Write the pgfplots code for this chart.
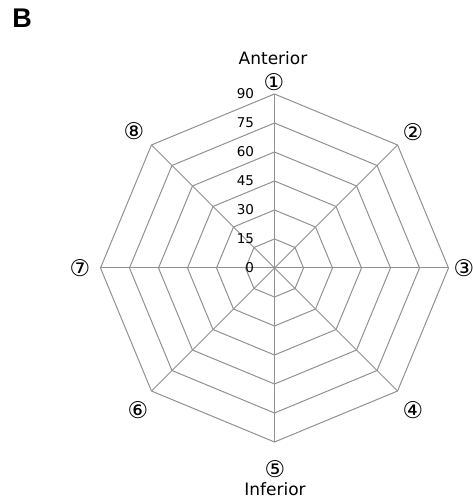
\documentclass[border=0pt]{standalone}
\usepackage{fontspec}
\setmainfont{DejaVu Sans}
\newfontfamily\arialfont{Liberation Sans}
\usepackage{pgfplots}
\pgfplotsset{compat=1.18}
\definecolor{gridgray}{RGB}{145,145,145}
\begin{document}
\begin{tikzpicture}[x=1pt,y=1pt]
\useasboundingbox (0,0) rectangle (473,500);
\clip (0,0) rectangle (473,500);
\begin{axis}[
  at={(0pt,0pt)}, anchor=south west,
  scale only axis, width=473pt, height=500pt,
  xmin=-141.98, xmax=102.67, ymin=-120.0, ymax=138.62,
  hide axis, clip=false,
]
% octagonal rings (angle, value)
\foreach \r in {15,30,45,60,75,90}{
  \edef\temp{\noexpand\addplot[gridgray, line width=1pt, data cs=polar] coordinates {(90,\r) (45,\r) (0,\r) (-45,\r) (-90,\r) (-135,\r) (180,\r) (135,\r) (90,\r)};}
  \temp
}
% spokes
\foreach \a in {90,45,0,-45,-90,-135,180,135}{
  \edef\temp{\noexpand\addplot[gridgray, line width=1pt, data cs=polar] coordinates {(\a,0) (\a,90)};}
  \temp
}
% value labels
\foreach \v in {0,15,30,45,60,75,90}{
  \edef\temp{\noexpand\node[anchor=east, font=\noexpand\fontsize{13.5}{14}\noexpand\selectfont, inner sep=0pt] at (axis cs:-10.5,\v) {\v};}
  \temp
}
\end{axis}
\begin{scope}[every node/.style={font=\fontsize{23}{24}\selectfont, inner sep=0pt}]
\node at (274,500-82) {①};
\node at (413,500-132) {②};
\node at (464,500-268) {③};
\node at (413,500-410) {④};
\node at (275,500-469) {⑤};
\node at (138,500-410) {⑥};
\node at (80,500-268) {⑦};
\node at (134,500-131) {⑧};
\end{scope}
\begin{scope}[every node/.style={font=\fontsize{17}{18}\selectfont, inner sep=0pt}]
\node[anchor=base] at (273,500-65) {Anterior};
\node[anchor=base] at (275,500-495) {Inferior};
\end{scope}
\node[font=\arialfont\bfseries\fontsize{27}{28}\selectfont, inner sep=0pt] at (22,500-18) {B};
\end{tikzpicture}
\end{document}
